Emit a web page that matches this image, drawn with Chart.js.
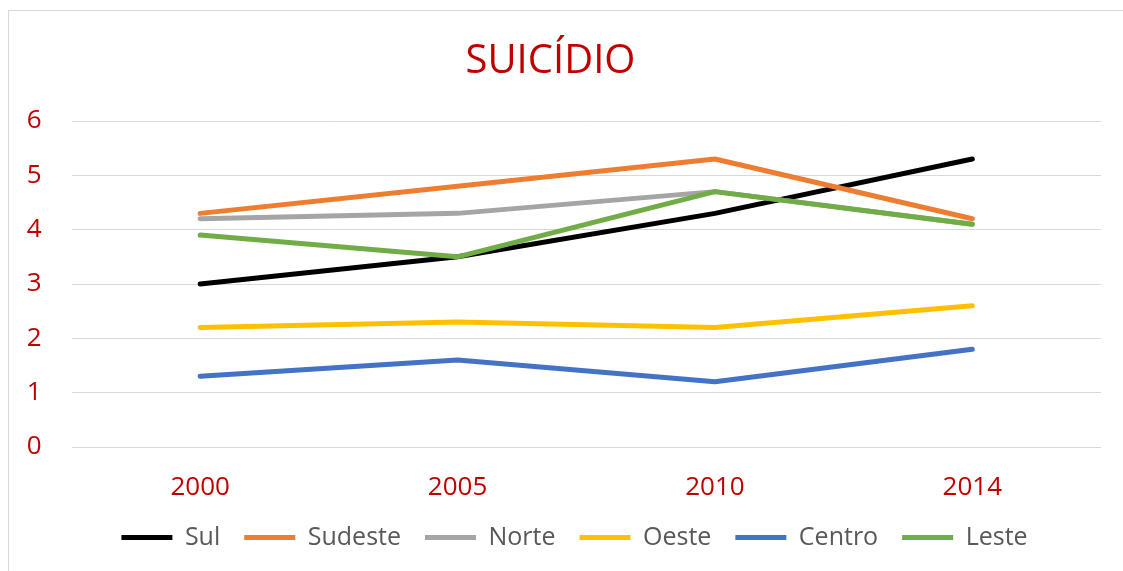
<!DOCTYPE html>
<html>
<head>
<meta charset="utf-8">
<script src="https://cdn.jsdelivr.net/npm/chart.js@4.4.1/dist/chart.umd.min.js"></script>
<style>
  html, body { margin: 0; padding: 0; background: #ffffff; }
  #wrap { position: relative; width: 1123px; height: 571px; }
</style>
</head>
<body>
<div id="wrap"><canvas id="c" width="1123" height="571"></canvas></div>
<script>
const categories = ['2000', '2005', '2010', '2014'];
const seriesNames = ['Sul', 'Sudeste', 'Norte', 'Oeste', 'Centro', 'Leste'];
const sul     = [3.0, 3.5, 4.3, 5.3];
const sudeste = [4.3, 4.8, 5.3, 4.2];
const norte   = [4.2, 4.3, 4.7, 4.1];
const oeste   = [2.2, 2.3, 2.2, 2.6];
const centro  = [1.3, 1.6, 1.2, 1.8];
const leste   = [3.9, 3.5, 4.7, 4.1];
const yTicks  = [0, 1, 2, 3, 4, 5, 6];
const titleText = 'SUICÍDIO';

const colors = ['#000000', '#ED7D31', '#A5A5A5', '#FFC000', '#4472C4', '#70AD47'];
const values = [sul, sudeste, norte, oeste, centro, leste];
const FONT = "'Open Sans', sans-serif";
const RED = '#C00000';

const borderPlugin = {
  id: 'outerBorder',
  beforeDraw(chart) {
    const ctx = chart.ctx;
    ctx.save();
    ctx.strokeStyle = '#D9D9D9';
    ctx.lineWidth = 1;
    ctx.strokeRect(8.5, 10.5, 1200, 800);
    ctx.restore();
  }
};

const legendShift = {
  id: 'legendShift',
  afterLayout(chart) {
    if (chart.legend) {
      chart.legend.left += 24;
      chart.legend.right += 24;
    }
  }
};

new Chart(document.getElementById('c'), {
  type: 'line',
  data: {
    labels: categories,
    datasets: seriesNames.map((name, i) => ({
      label: name,
      data: values[i],
      borderColor: colors[i],
      backgroundColor: colors[i],
      borderWidth: 5,
      borderCapStyle: 'round',
      borderJoinStyle: 'round',
      pointRadius: 0,
      pointHoverRadius: 0,
      tension: 0,
      fill: false,
      order: seriesNames.length - i
    }))
  },
  options: {
    responsive: false,
    animation: false,
    devicePixelRatio: 1,
    layout: { padding: { left: 0, right: 22, top: 0, bottom: 11 } },
    plugins: {
      title: {
        display: true,
        text: titleText,
        color: RED,
        font: { family: FONT, size: 40, weight: 'normal' },
        padding: { top: 38, bottom: 35 }
      },
      legend: {
        position: 'bottom',
        labels: {
          color: '#595959',
          font: { family: FONT, size: 25 },
          boxWidth: 51,
          boxHeight: 5,
          padding: 24,
          useBorderRadius: true,
          borderRadius: 2.5,
          sort: (a, b) => a.datasetIndex - b.datasetIndex,
          generateLabels(chart) {
            return chart.data.datasets.map((ds, i) => ({
              text: ds.label,
              fillStyle: ds.borderColor,
              strokeStyle: ds.borderColor,
              lineWidth: 0,
              hidden: false,
              datasetIndex: i,
              fontColor: '#595959'
            }));
          }
        }
      },
      tooltip: { enabled: false }
    },
    scales: {
      x: {
        offset: true,
        afterFit(scale) { scale.height = 54; },
        grid: { display: false, drawTicks: false },
        border: { display: false },
        ticks: { color: RED, font: { family: FONT, size: 26 }, padding: 25 }
      },
      y: {
        min: 0,
        max: 6,
        afterBuildTicks(scale) { scale.ticks = yTicks.map(v => ({ value: v })); },
        afterFit(scale) { scale.width = 71.5; },
        grid: { color: '#D9D9D9', lineWidth: 1, drawTicks: false },
        border: { display: false },
        ticks: { color: RED, font: { family: FONT, size: 26 }, padding: 30 }
      }
    }
  },
  plugins: [borderPlugin, legendShift]
});
</script>
</body>
</html>
